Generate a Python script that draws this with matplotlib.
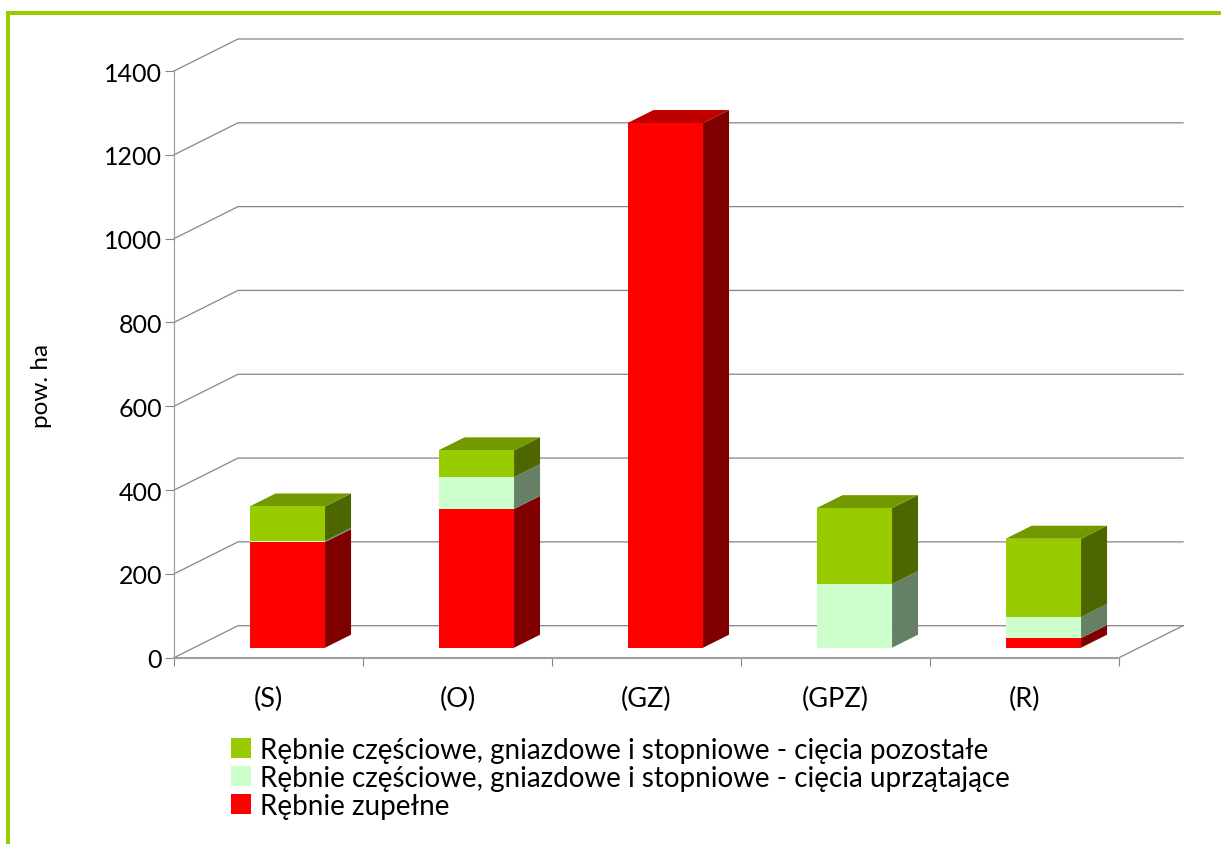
import matplotlib
matplotlib.use("Agg")
import matplotlib.pyplot as plt
from matplotlib.patches import Patch, Polygon, Rectangle

plt.rcParams['font.family'] = ['Lato', 'DejaVu Sans']

categories = ["(S)", "(O)", "(GZ)", "(GPZ)", "(R)"]
zupelne = [252, 331, 1252, 0, 23]
uprzatajace = [3, 76, 0, 152, 50]
pozostale = [82, 64, 0, 181, 187]
y_ticks = [0, 200, 400, 600, 800, 1000, 1200, 1400]
y_label = "pow. ha"
series = [
    ("Rębnie zupełne", zupelne, "#ff0000", "#800000", "#bf0000"),
    ("Rębnie częściowe, gniazdowe i stopniowe - cięcia uprzątające", uprzatajace, "#ccffcc", "#668066", "#99bf99"),
    ("Rębnie częściowe, gniazdowe i stopniowe - cięcia pozostałe", pozostale, "#99cc00", "#4d6600", "#739900"),
]

W, H = 1221, 845
fig = plt.figure(figsize=(W / 100, H / 100), dpi=100)
L, R, T, B = 174, 1119, 72, 658.7
ax = fig.add_axes([L / W, 1 - B / H, (R - L) / W, (B - T) / H])
ax.set_xlim(0, 5)
ax.set_ylim(0, 1400)
ax.patch.set_alpha(0)

PX_X = (R - L) / 5
PX_Y = (B - T) / 1400
DEPTH_X = 64 / PX_X   # wall depth in data units
DEPTH_Y = 32 / PX_Y


def proj(x, y, z):
    return (x + z * DEPTH_X, y + z * DEPTH_Y)


GRID = "#868686"
AXIS = "#a0a0a0"
# back wall grid lines with left-wall diagonals
for v in y_ticks:
    p0, p1, p2 = proj(0, v, 0), proj(0, v, 1), proj(5, v, 1)
    ax.plot([p0[0], p1[0], p2[0]], [p0[1], p1[1], p2[1]], color=GRID, lw=0.9,
            clip_on=False, zorder=1, solid_joinstyle="miter")
pa, pb = proj(5, 0, 0), proj(5, 0, 1)
ax.plot([pa[0], pb[0]], [pa[1], pb[1]], color=GRID, lw=0.9, clip_on=False, zorder=1)

# 3D stacked bars
BAR_W = 75.5 / PX_X
SHIFT = -1.2 / PX_X
Z0, Z1 = 10 / 32, 23 / 32
for i in range(len(categories)):
    x0 = i + (1 - BAR_W) / 2 + SHIFT
    x1 = x0 + BAR_W
    base = 0
    visible = [s for s in series if s[1][i] > 0]
    for name, vals, front, side, top in visible:
        v = vals[i]
        y0, y1 = base, base + v
        ax.add_patch(Polygon([proj(x1, y0, Z0), proj(x1, y0, Z1), proj(x1, y1, Z1), proj(x1, y1, Z0)],
                             closed=True, fc=side, ec="none", clip_on=False, zorder=3))
        ax.add_patch(Polygon([proj(x0, y0, Z0), proj(x1, y0, Z0), proj(x1, y1, Z0), proj(x0, y1, Z0)],
                             closed=True, fc=front, ec="none", clip_on=False, zorder=4))
        base = y1
    top_col = visible[-1][4]
    ax.add_patch(Polygon([proj(x0, base, Z0), proj(x1, base, Z0), proj(x1, base, Z1), proj(x0, base, Z1)],
                         closed=True, fc=top_col, ec="none", clip_on=False, zorder=3))

# axes
for s in ("top", "right"):
    ax.spines[s].set_visible(False)
ax.spines["left"].set_color(AXIS)
ax.spines["left"].set_linewidth(0.9)
ax.spines["bottom"].set_color(AXIS)
ax.spines["bottom"].set_linewidth(1.5)
ax.set_yticks(y_ticks)
ax.tick_params(axis="y", length=6.5, width=0.8, color=GRID, labelsize=18, pad=2)
ax.set_xticks(range(6))
ax.set_xticklabels([])
ax.tick_params(axis="x", which="major", length=5.5, width=0.8, color=GRID)
ax.set_xticks([i + 0.5 for i in range(5)], minor=True)
ax.set_xticklabels(categories, minor=True, fontsize=19.5)
ax.tick_params(axis="x", which="minor", length=0, pad=20)
fig.text(41 / W, 1 - 386 / H, y_label, rotation=90, ha="center", va="center", fontsize=17.5)

# frame
GREEN = "#99cc00"
fig.add_artist(Rectangle((6 / W, 0), 4 / W, 1 - 11.7 / H, transform=fig.transFigure, fc=GREEN, ec="none"))
fig.add_artist(Rectangle((6 / W, 1 - 16 / H), 1 - 6 / W, 4.3 / H, transform=fig.transFigure, fc=GREEN, ec="none"))

# legend
handles = [Patch(fc=s[2], ec="none", label=s[0]) for s in reversed(series)]
fig.legend(handles=handles, loc="upper left", bbox_to_anchor=(231 / W, 1 - 738 / H),
           bbox_transform=fig.transFigure, frameon=False, fontsize=20, borderpad=0, borderaxespad=0,
           handlelength=0.72, handleheight=0.72, handletextpad=0.32, labelspacing=0.07)

fig.savefig("out.png", dpi=100, facecolor="white")
